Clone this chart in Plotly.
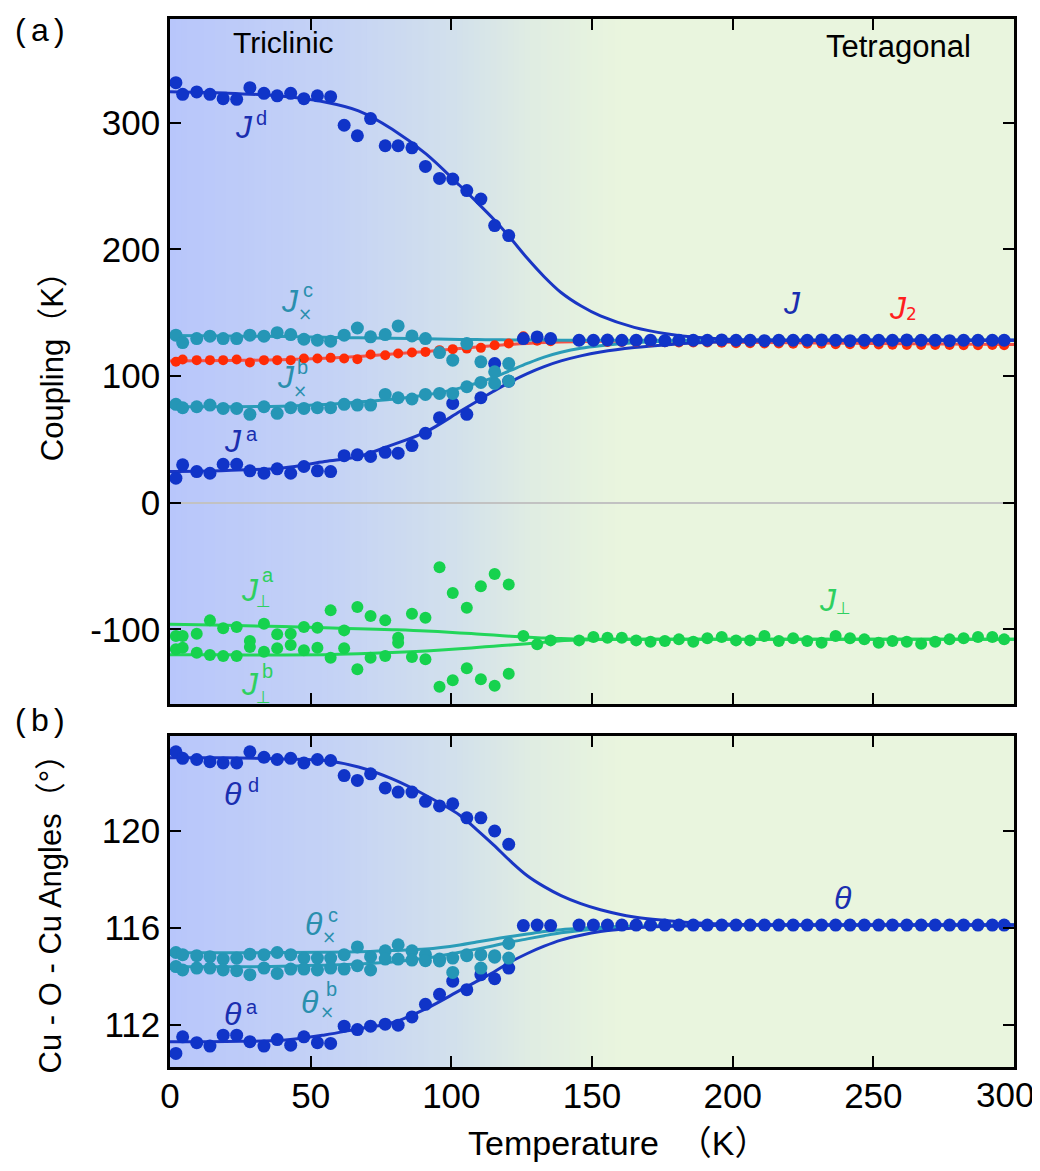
import plotly.graph_objects as go

# ---------------- data ----------------
T_tri = [2.1, 4.5, 9.5, 14.2, 18.9, 23.7, 28.4, 33.4, 38.1, 42.9, 47.6, 52.4, 57.1,
         61.9, 66.6, 71.3, 76.5, 81.1, 86.0, 90.8, 95.8, 100.5, 105.5, 110.5, 115.4, 120.4]
T_tet = [125.6, 130.5, 135.3, 145.4, 150.5, 155.5, 160.6, 165.7, 170.8, 175.9, 180.9,
         186.0, 191.0, 196.1, 201.2, 206.2, 211.3, 216.4, 221.5, 226.5, 231.6, 236.6,
         241.7, 246.8, 251.9, 256.8, 261.9, 267.0, 272.0, 277.1, 282.1, 287.2, 292.3, 296.5]

# panel (a): couplings (K)
J_d = [331.7, 322.5, 324.4, 322.5, 319.1, 318.6, 327.8, 323.3, 321.3, 323.3, 319.1, 321.3, 320.7,
       298.1, 289.8, 303.4, 281.9, 281.9, 280.3, 265.6, 256.1, 255.6, 246.5, 239.8, 218.9, 211.0]
J_a = [19.4, 29.9, 24.6, 23.3, 30.4, 30.4, 25.2, 23.3, 26.8, 23.3, 28.6, 25.2, 24.6,
       37.2, 37.8, 36.5, 39.8, 39.1, 45.1, 54.8, 67.2, 78.4, 69.8, 82.9, 109.9, 96.0]
J_xc = [132.3, 126.5, 129.6, 131.5, 129.6, 129.6, 132.3, 131.5, 134.3, 132.8, 129.1, 128.3, 127.6,
        132.3, 138.0, 131.0, 132.8, 139.6, 131.7, 129.6, 118.6, 112.6, 125.7, 111.3, 103.4, 109.9]
J_xb = [77.7, 75.0, 75.8, 77.1, 74.5, 74.5, 69.8, 75.8, 70.6, 75.0, 74.5, 75.0, 75.0,
        77.7, 77.1, 77.1, 85.5, 82.9, 81.9, 85.5, 86.3, 86.3, 91.6, 95.0, 94.2, 96.1]
J2_tri = [111.3, 113.1, 112.6, 112.6, 112.6, 113.1, 110.7, 112.6, 112.6, 112.6, 113.9, 113.9, 114.4,
          113.9, 113.4, 117.0, 116.5, 117.8, 118.6, 119.1, 120.5, 121.3, 121.7, 122.3, 124.4, 125.7]
Jp_a = [-105.3, -105.3, -103.5, -92.9, -99.2, -98.2, -109.2, -95.6, -103.9, -103.5, -98.2, -98.7, -85.0,
        -100.8, -82.4, -89.5, -92.9, -106.6, -87.7, -90.9, -51.0, -71.2, -83.0, -65.9, -56.2, -64.6]
Jp_b = [-115.7, -114.5, -118.4, -120.2, -121.0, -121.0, -114.0, -117.6, -115.0, -112.4, -116.5, -114.5, -122.4,
        -115.0, -131.5, -122.4, -121.0, -110.5, -121.8, -123.6, -145.4, -140.2, -130.7, -139.4, -144.6, -135.0]

J_tet = [129.6, 130.9, 129.6, 128.3, 128.3, 128.5, 128.3, 128.3, 128.3, 128.0, 128.3, 128.3,
         128.3, 128.6, 128.3, 128.3, 128.0, 128.3, 128.3, 128.3, 128.6, 128.3, 128.0, 128.3,
         128.3, 128.3, 128.6, 128.3, 128.3, 128.0, 128.3, 128.3, 128.3, 128.3]
J2_tet = [131.5, 128.0, 127.5, 127.5, 127.5, 127.0, 127.0, 127.0, 127.0, 126.8, 126.5, 126.5,
          126.5, 126.3, 126.0, 126.0, 125.8, 125.8, 125.5, 125.5, 125.5, 125.2, 125.2, 125.0,
          125.0, 124.8, 124.5, 124.5, 124.5, 124.5, 124.3, 124.3, 124.5, 124.3]
Jp_tet = [-105.3, -111.8, -108.7, -108.7, -106.1, -106.6, -106.6, -108.7, -109.8, -109.2, -107.9, -109.8,
          -107.1, -106.1, -108.7, -108.7, -105.3, -109.2, -107.1, -109.2, -110.5, -105.3, -107.1, -107.9,
          -110.5, -109.2, -109.8, -111.3, -109.8, -107.9, -107.1, -106.1, -106.1, -107.9]

# panel (b): Cu-O-Cu angles (deg)
th_d = [123.25, 122.98, 122.93, 122.84, 122.79, 122.79, 123.25, 123.02, 122.93, 122.98, 122.79, 122.93, 122.89,
        122.27, 122.07, 122.34, 121.76, 121.59, 121.59, 121.21, 121.02, 121.11, 120.53, 120.53, 119.99, 119.44]
th_a = [110.84, 111.52, 111.28, 111.14, 111.59, 111.59, 111.32, 111.14, 111.41, 111.18, 111.52, 111.28, 111.25,
        111.96, 111.82, 111.96, 112.04, 112.00, 112.34, 112.86, 113.27, 113.81, 113.46, 114.08, 113.91, 114.35]
th_xc = [114.99, 114.90, 114.86, 114.82, 114.72, 114.76, 114.92, 114.90, 114.99, 114.90, 114.76, 114.76, 114.76,
         114.90, 115.22, 114.82, 115.06, 115.31, 115.06, 114.90, 114.72, 114.76, 114.90, 114.90, 114.86, 115.36]
th_xb = [114.41, 114.27, 114.35, 114.35, 114.27, 114.24, 114.08, 114.35, 114.13, 114.31, 114.31, 114.27, 114.35,
         114.31, 114.45, 114.27, 114.72, 114.72, 114.68, 114.65, 114.64, 114.17, 114.86, 114.35, 114.80, 114.76]
th_tet = [116.10, 116.12, 116.10, 116.12, 116.12, 116.12, 116.12, 116.12, 116.12, 116.12, 116.12, 116.12,
          116.12, 116.12, 116.12, 116.12, 116.12, 116.12, 116.12, 116.12, 116.12, 116.12, 116.12, 116.12,
          116.12, 116.12, 116.12, 116.12, 116.12, 116.12, 116.12, 116.12, 116.12, 116.12]

# fitted curves
fit_T = [0, 20, 40, 55, 67, 79, 91, 103, 109, 115, 121, 127, 133, 139, 146, 153, 165, 177, 188, 200, 220, 250, 300]
Jd_fit = [324.5, 323.5, 321.0, 316.5, 309.5, 295.0, 275.5, 250.5, 237.5, 224.0, 209.0, 193.0, 178.5, 166.0,
          155.5, 147.5, 138.5, 133.3, 130.5, 129.0, 128.4, 128.3, 128.3]
Ja_fit = [24.6, 25.5, 27.5, 32.5, 36.5, 45.7, 56.0, 72.0, 80.0, 88.0, 95.5, 102.0, 107.5, 112.0,
          116.0, 119.0, 122.5, 124.8, 126.3, 127.3, 128.1, 128.3, 128.3]
Jxc_fit = [132.0, 131.7, 131.2, 130.6, 130.2, 129.8, 129.4, 129.0, 128.85, 128.7, 128.6, 128.5, 128.45, 128.4,
           128.35, 128.3, 128.3, 128.3, 128.3, 128.3, 128.3, 128.3, 128.3]
Jxb_fit = [75.8, 75.8, 76.2, 77.5, 79.5, 81.8, 85.0, 90.5, 94.5, 99.0, 104.5, 110.0, 115.0, 118.8,
           122.0, 124.0, 126.3, 127.5, 128.0, 128.3, 128.3, 128.3, 128.3]
J2_fit = [112.0, 112.3, 113.0, 114.0, 115.5, 117.5, 119.5, 121.8, 122.9, 124.0, 125.0, 125.8, 126.5, 127.0,
          127.3, 127.5, 127.5, 127.3, 127.0, 126.8, 126.4, 125.8, 125.0]
Jpa_fit = [-96.0, -96.8, -97.8, -98.7, -99.5, -100.3, -101.3, -102.8, -103.6, -104.5, -105.4, -106.2, -106.9,
           -107.3, -107.6, -107.8, -107.8, -107.8, -107.8, -107.8, -107.8, -107.8, -107.8]
Jpb_fit = [-120.0, -120.1, -120.2, -120.0, -119.3, -118.3, -117.0, -115.3, -114.3, -113.3, -112.3, -111.3, -110.1,
           -109.0, -108.4, -108.0, -107.8, -107.8, -107.8, -107.8, -107.8, -107.8, -107.8]
thd_fit = [123.0, 123.0, 122.95, 122.89, 122.62, 122.13, 121.45, 120.64, 120.05, 119.42, 118.75, 118.15, 117.7,
           117.33, 117.0, 116.75, 116.45, 116.3, 116.2, 116.15, 116.12, 116.12, 116.12]
tha_fit = [111.32, 111.33, 111.38, 111.6, 111.85, 112.1, 112.68, 113.43, 113.8, 114.18, 114.6, 114.95, 115.25,
           115.5, 115.7, 115.85, 116.0, 116.07, 116.1, 116.12, 116.12, 116.12, 116.12]
thc_fit = [114.98, 114.98, 114.99, 115.0, 115.02, 115.07, 115.13, 115.3, 115.42, 115.54, 115.65, 115.75, 115.85,
           115.93, 115.99, 116.03, 116.08, 116.1, 116.12, 116.12, 116.12, 116.12, 116.12]
thb_fit = [114.4, 114.4, 114.42, 114.47, 114.52, 114.6, 114.76, 115.0, 115.13, 115.27, 115.42, 115.55, 115.68,
           115.8, 115.9, 115.97, 116.05, 116.09, 116.1, 116.12, 116.12, 116.12, 116.12]

x_ticks = [0, 50, 100, 150, 200, 250, 300]
ya_ticks = [-100, 0, 100, 200, 300]
yb_ticks = [112, 116, 120]

# ---------------- style ----------------
FONT = "Liberation Sans, Arial, Noto Sans CJK SC, sans-serif"
BLUE, BLUE_L, BLUE_T = "#1034c8", "#1a36c4", "#1a2eb0"
TEAL, TEAL_L, TEAL_T = "#2596b6", "#2a9cb8", "#2a8fae"
RED, RED_L, RED_T = "#ff2b06", "#f55247", "#ff1f1f"
GREEN, GREEN_L, GREEN_T = "#16d24e", "#22d65a", "#2ed060"

fig = go.Figure()


def line(x, y, color, ax):
    fig.add_trace(go.Scatter(x=x, y=y, mode="lines", line=dict(color=color, width=3, shape="spline"),
                             xaxis=ax[0], yaxis=ax[1], hoverinfo="skip"))


def pts(x, y, color, size, ax):
    fig.add_trace(go.Scatter(x=x, y=y, mode="markers", marker=dict(color=color, size=size, line=dict(width=0)),
                             xaxis=ax[0], yaxis=ax[1]))


A = ("x", "y")
B = ("x2", "y2")

# panel a lines
line(fit_T, Jpa_fit, GREEN_L, A)
line(fit_T, Jpb_fit, GREEN_L, A)
line(fit_T, J2_fit, RED_L, A)
line(fit_T, Jxc_fit, TEAL_L, A)
line(fit_T, Jxb_fit, TEAL_L, A)
line(fit_T, Jd_fit, BLUE_L, A)
line(fit_T, Ja_fit, BLUE_L, A)
# panel a points
pts(T_tri, Jp_a, GREEN, 12, A)
pts(T_tri, Jp_b, GREEN, 12, A)
pts(T_tet, Jp_tet, GREEN, 12, A)
pts(T_tri, J2_tri, RED, 10, A)
pts(T_tet, J2_tet, RED, 10, A)
pts(T_tri, J_d, BLUE, 13, A)
pts(T_tri, J_a, BLUE, 13, A)
pts(T_tet, J_tet, BLUE, 13, A)
pts(T_tri, J_xc, TEAL, 13, A)
pts(T_tri, J_xb, TEAL, 13, A)

# panel b lines
line(fit_T, thc_fit, TEAL_L, B)
line(fit_T, thb_fit, TEAL_L, B)
line(fit_T, thd_fit, BLUE_L, B)
line(fit_T, tha_fit, BLUE_L, B)
# panel b points
pts(T_tri, th_d, BLUE, 13, B)
pts(T_tri, th_a, BLUE, 13, B)
pts(T_tet, th_tet, BLUE, 13, B)
pts(T_tri, th_xc, TEAL, 13, B)
pts(T_tri, th_xb, TEAL, 13, B)

# ---------------- background gradient ----------------
stops = [(0, (184, 198, 251)), (60, (197, 211, 245)), (100, (210, 224, 236)),
         (130, (224, 237, 226)), (160, (233, 245, 222))]


def grad(t):
    for (t0, c0), (t1, c1) in zip(stops[:-1], stops[1:]):
        if t0 <= t <= t1:
            f = (t - t0) / (t1 - t0)
            return "rgb(%d,%d,%d)" % tuple(round(a + (b - a) * f) for a, b in zip(c0, c1))
    return "rgb(%d,%d,%d)" % stops[-1][1]


shapes = []
for xr, yr in (("x", "y domain"), ("x2", "y2 domain")):
    for i in range(0, 160, 2):
        shapes.append(dict(type="rect", xref=xr, yref=yr, x0=i, x1=i + 2.4, y0=0, y1=1,
                           fillcolor=grad(i + 1), line=dict(width=0), layer="below"))
    shapes.append(dict(type="rect", xref=xr, yref=yr, x0=160, x1=300, y0=0, y1=1,
                       fillcolor=grad(160), line=dict(width=0), layer="below"))

# ---------------- annotations ----------------
ann = []


def lab(xr, yr, x, y, base, color, sup=None, sup_off=(18, 9), sub=None, sub_off=(14, -13), size=32):
    ann.append(dict(xref=xr, yref=yr, x=x, y=y, text="<i>%s</i>" % base, showarrow=False,
                    xanchor="center", yanchor="middle", font=dict(family=FONT, size=size, color=color)))
    if sup:
        ann.append(dict(xref=xr, yref=yr, x=x, y=y, text=sup, showarrow=False, xshift=sup_off[0],
                        yshift=sup_off[1], xanchor="center", yanchor="middle",
                        font=dict(family=FONT, size=20, color=color)))
    if sub:
        ann.append(dict(xref=xr, yref=yr, x=x, y=y, text=sub, showarrow=False, xshift=sub_off[0],
                        yshift=sub_off[1], xanchor="center", yanchor="middle",
                        font=dict(family="DejaVu Sans, " + FONT, size=17, color=color)))


lab("x", "y", 26.3, 297.1, "J", BLUE_T, sup="d", sup_off=(18, 9))
lab("x", "y", 42.7, 159.3, "J", TEAL_T, sup="c", sup_off=(18, 11), sub="×", sub_off=(15, -13))
lab("x", "y", 41.2, 99.4, "J", TEAL_T, sup="b", sup_off=(17, 10), sub="×", sub_off=(14, -14))
lab("x", "y", 22.4, 49.1, "J", BLUE_T, sup="a", sup_off=(19, 7))
lab("x", "y", 221.1, 157.7, "J", BLUE_T)
lab("x", "y", 258.8, 153.8, "J", RED_T, sub="2", sub_off=(13, -6))
lab("x", "y", 28.4, -69.1, "J", GREEN_T, sup="a", sup_off=(18, 15), sub="⊥", sub_off=(14, -11))
lab("x", "y", 28.4, -143.1, "J", GREEN_T, sup="b", sup_off=(18, 13), sub="⊥", sub_off=(14, -13))
lab("x", "y", 233.9, -76.9, "J", GREEN_T, sub="⊥", sub_off=(15, -8))
lab("x2", "y2", 22.4, 121.52, "θ", BLUE_T, sup="d", sup_off=(20, 9))
lab("x2", "y2", 51.2, 116.18, "θ", TEAL_T, sup="c", sup_off=(19, 9), sub="×", sub_off=(15, -13))
lab("x2", "y2", 49.8, 112.94, "θ", TEAL_T, sup="b", sup_off=(21, 13), sub="×", sub_off=(17, -10))
lab("x2", "y2", 22.4, 112.45, "θ", BLUE_T, sup="a", sup_off=(19, 7))
lab("x2", "y2", 239.3, 117.25, "θ", BLUE_T)

TICK_FONT = dict(family=FONT, size=35, color="black")

ann.append(dict(xref="x", yref="y", x=40.5, y=363.2, text="Triclinic", showarrow=False,
                font=dict(family=FONT, size=30, color="black")))
ann.append(dict(xref="x", yref="y", x=259, y=360.1, text="Tetragonal", showarrow=False,
                font=dict(family=FONT, size=31, color="black")))
ann.append(dict(xref="paper", yref="paper", x=-0.154, y=(1067 - 27) / 1051, text="(\u2006a\u2006)", showarrow=False,
                xanchor="center", yanchor="middle", font=dict(family=FONT, size=32, color="black")))
ann.append(dict(xref="paper", yref="paper", x=-0.154, y=(1067 - 719) / 1051, text="(\u2006b\u2006)", showarrow=False,
                xanchor="center", yanchor="middle", font=dict(family=FONT, size=32, color="black")))
ann.append(dict(xref="paper", yref="paper", x=-0.1398, y=(1067 - 462) / 1051, text="Coupling（K）",
                showarrow=False, textangle=-90, xanchor="center", yanchor="bottom",
                font=dict(family=FONT, size=31, color="black")))
ann.append(dict(xref="paper", yref="paper", x=-0.1422, y=(1067 - 1075) / 1051,
                text="Cu - O - Cu Angles（°）", showarrow=False, textangle=-90,
                xanchor="center", yanchor="bottom", font=dict(family=FONT, size=31, color="black")))
ann.append(dict(xref="paper", yref="paper", x=(466 - 170) / 844, y=-0.0723, text="Temperature \u00a0（K）",
                showarrow=False, xanchor="left", yanchor="middle", font=dict(family=FONT, size=34, color="black")))
# last x tick label, pulled inward so it stays inside the page (as in the reference)
ann.append(dict(xref="x2", yref="paper", x=x_ticks[-1], y=(1067 - 1095) / 1051, text=str(x_ticks[-1]),
                showarrow=False, xanchor="right", yanchor="middle", xshift=22, font=TICK_FONT))

# ---------------- axes ----------------
common = dict(showline=True, linecolor="black", linewidth=2.5, mirror="ticks", ticks="inside", ticklen=11,
              tickwidth=2.2, tickcolor="black", showgrid=False, zeroline=False, ticklabeloverflow="allow",
              tickfont=TICK_FONT)

# the page body adds an 8 px offset, margins compensate for it
fig.update_layout(
    width=1040, height=1171,
    margin=dict(l=162, r=34, t=8, b=112),
    paper_bgcolor="white", plot_bgcolor="#e9f5de",
    showlegend=False,
    shapes=shapes, annotations=ann,
    xaxis=dict(domain=[0, 1], range=[0, 300], anchor="y", tickvals=x_ticks, showticklabels=False, **common),
    xaxis2=dict(domain=[0, 1], range=[0, 300], anchor="y2", tickvals=x_ticks, ticklabelstandoff=-4,
                ticktext=[str(v) for v in x_ticks[:-1]] + [""], **common),
    yaxis=dict(domain=[0.3463, 1], range=[-159, 382], anchor="x", tickvals=ya_ticks,
               ticktext=[str(v) for v in ya_ticks], **common),
    yaxis2=dict(domain=[0, 0.3159], range=[110.28, 123.9], anchor="x2", tickvals=yb_ticks,
                ticktext=[str(v) for v in yb_ticks], **common),
)
fig.update_yaxes(zeroline=True, zerolinecolor="#c2c2c2", zerolinewidth=2, selector=dict(anchor="x"))

fig.write_html("out.html")
